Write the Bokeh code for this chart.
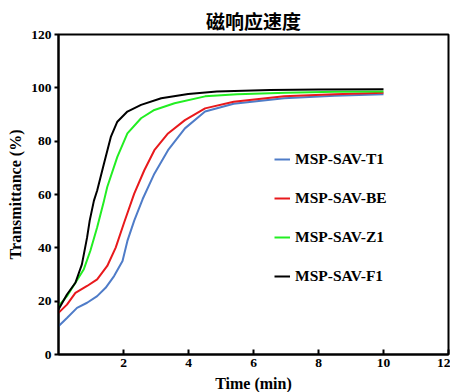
from bokeh.plotting import figure
from bokeh.models import Range1d, FixedTicker, Legend, LegendItem, Title
from bokeh.embed import file_html
from bokeh.resources import INLINE

title_text = "磁响应速度"
x_label = "Time (min)"
y_label = "Transmittance (%)"
series_names = ["MSP-SAV-T1", "MSP-SAV-BE", "MSP-SAV-Z1", "MSP-SAV-F1"]
series_colors = ["#4f7cc8", "#e8191c", "#22ee22", "#000000"]

t1_x = [0.0, 0.26, 0.57, 0.88, 1.19, 1.45, 1.71, 1.97, 2.12, 2.33, 2.59, 2.95, 3.37, 3.89, 4.51, 5.39, 6.94, 8.5, 10.0]
t1_y = [10.6, 13.7, 17.5, 19.4, 21.9, 25.0, 29.4, 35.1, 42.6, 50.2, 58.3, 67.8, 76.6, 84.8, 91.1, 94.0, 96.1, 97.0, 97.6]

be_x = [0.0, 0.26, 0.52, 0.88, 1.19, 1.5, 1.76, 2.02, 2.33, 2.64, 2.95, 3.37, 3.89, 4.51, 5.39, 6.94, 8.5, 10.0]
be_y = [15.6, 18.7, 23.1, 25.7, 28.2, 33.2, 40.1, 49.5, 60.3, 69.1, 76.6, 82.9, 87.9, 92.3, 94.8, 96.8, 97.6, 98.2]

z1_x = [0.0, 0.26, 0.52, 0.78, 0.98, 1.19, 1.4, 1.5, 1.81, 2.12, 2.54, 2.95, 3.57, 4.51, 5.5, 7.0, 8.5, 10.0]
z1_y = [18.1, 21.9, 26.9, 32.0, 38.9, 47.7, 57.7, 62.8, 74.1, 82.9, 88.6, 91.7, 94.2, 96.8, 97.6, 98.2, 98.5, 98.6]

f1_x = [0.0, 0.26, 0.52, 0.72, 0.88, 0.96, 1.09, 1.19, 1.4, 1.61, 1.81, 2.12, 2.54, 3.16, 3.99, 4.87, 6.5, 8.0, 10.0]
f1_y = [16.9, 22.5, 26.9, 33.8, 43.9, 50.2, 57.7, 61.5, 71.6, 81.6, 87.3, 91.1, 93.6, 96.1, 97.7, 98.6, 99.2, 99.4, 99.5]

x_ticks = [2, 4, 6, 8, 10, 12]
y_ticks = [0, 20, 40, 60, 80, 100, 120]

p = figure(frame_width=390, frame_height=320, output_backend="svg", toolbar_location=None,
           x_range=Range1d(0, 12), y_range=Range1d(0, 120),
           min_border_left=58, min_border_right=2, min_border_top=34, min_border_bottom=10)
p.title = Title(text=title_text, align="center", text_font="Noto Sans CJK SC",
                text_font_size="19px", text_font_style="bold", offset=-10, text_color="black",
                standoff=2)

p.grid.visible = False
p.outline_line_color = "black"
p.outline_line_width = 2
p.outline_line_alpha = 1

FONT = "Liberation Serif"
for ax in (p.xaxis[0], p.yaxis[0]):
    ax.axis_line_width = 2
    ax.axis_line_color = "black"
    ax.major_tick_line_width = 2
    ax.major_tick_line_color = "black"
    ax.minor_tick_line_color = None
    ax.major_label_text_font = FONT
    ax.major_label_text_font_style = "bold"
    ax.major_label_text_font_size = "13.5px"
    ax.major_label_text_color = "black"
    ax.axis_label_text_font = FONT
    ax.axis_label_text_font_style = "bold"
    ax.axis_label_text_font_size = "16px"
    ax.axis_label_text_color = "black"

p.xaxis.major_tick_out = 0
p.xaxis.major_tick_in = 5
p.yaxis.major_tick_out = 4
p.yaxis.major_tick_in = 0

p.xaxis.ticker = FixedTicker(ticks=x_ticks)
p.yaxis.ticker = FixedTicker(ticks=y_ticks)
p.xaxis.axis_label = x_label
p.yaxis.axis_label = y_label
p.xaxis.axis_label_standoff = 5
p.yaxis.axis_label_standoff = 4
p.xaxis.major_label_standoff = 4
p.yaxis.major_label_standoff = 3

xs = [t1_x, be_x, z1_x, f1_x]
ys = [t1_y, be_y, z1_y, f1_y]
items = []
for name, color, x, y in zip(series_names, series_colors, xs, ys):
    r = p.line(x, y, line_color=color, line_width=2)
    items.append(LegendItem(label=name, renderers=[r]))

legend = Legend(items=items, location=(216, 68), border_line_color=None,
                background_fill_alpha=0, label_text_font=FONT, label_text_font_style="bold",
                label_text_font_size="15.5px", label_text_color="black",
                glyph_width=16, spacing=19, label_height=20, glyph_height=20, padding=0,
                label_standoff=5)
p.add_layout(legend)

open("out.html", "w").write(file_html(p, INLINE))
